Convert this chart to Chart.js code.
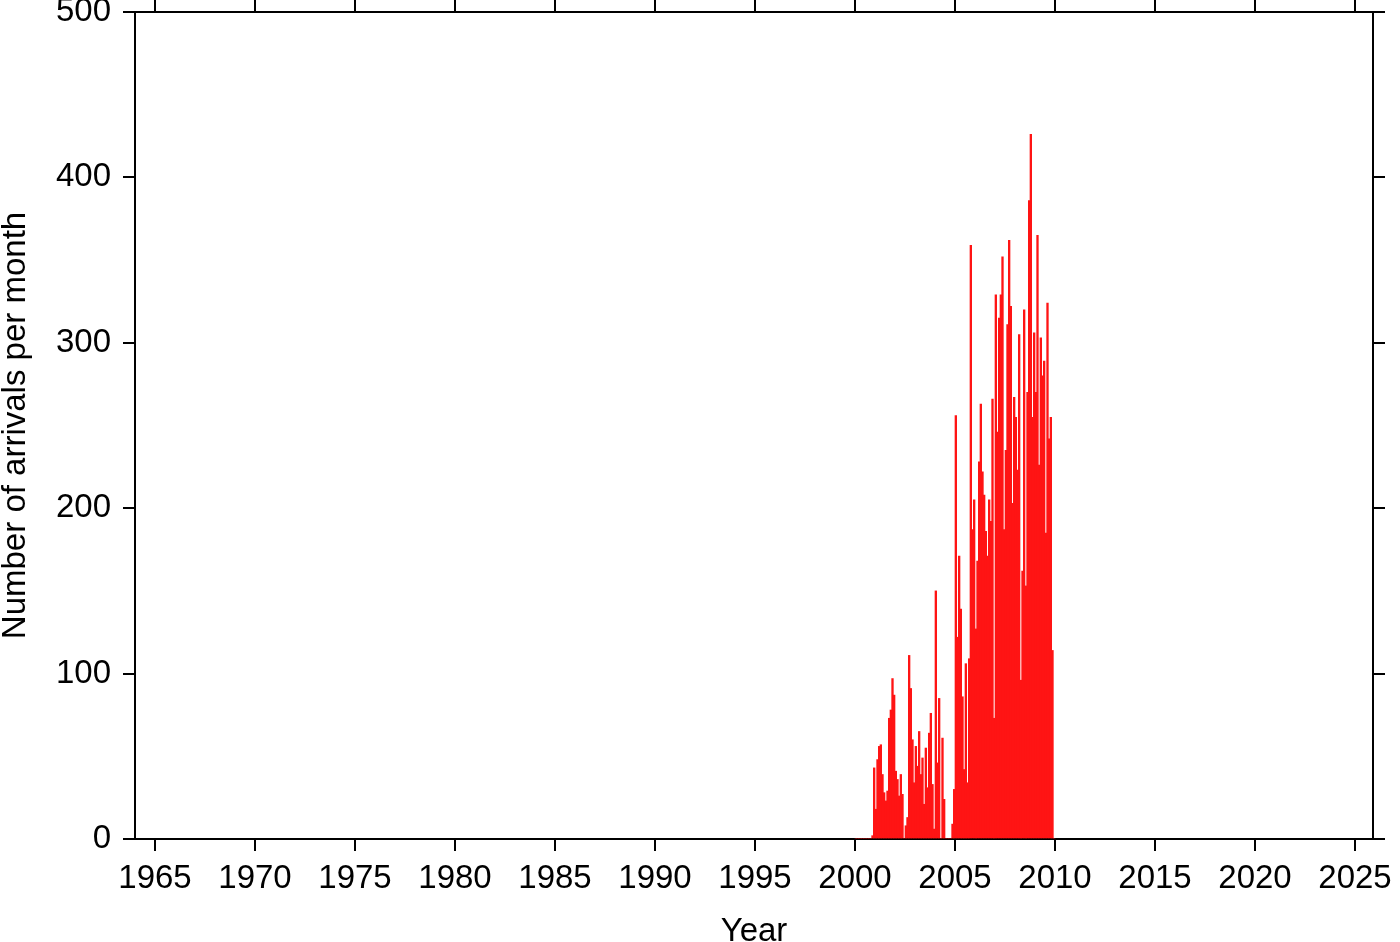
<!DOCTYPE html>
<html>
<head>
<meta charset="utf-8">
<script src="https://cdn.jsdelivr.net/npm/chart.js@4.4.1/dist/chart.umd.min.js"></script>
<style>
  html, body { margin: 0; padding: 0; background: #fff; }
  #chartBox { width: 1400px; height: 942px; }
</style>
</head>
<body>
<div id="chartBox"><canvas id="arrivalsChart" width="1400" height="942"></canvas></div>
<script>
// monthly arrival counts, jan..dec
const years = [2000, 2001, 2002, 2003, 2004, 2005, 2006, 2007, 2008, 2009];
const arrivals2000 = [0, 0, 0, 0, 0, 0, 0, 0, 0, 0, 2, 43];
const arrivals2001 = [18, 48, 56, 57, 39, 28, 23, 29, 73, 78, 97, 87];
const arrivals2002 = [41, 36, 26, 39, 27, 0, 8, 13, 111, 91, 60, 34];
const arrivals2003 = [56, 44, 65, 39, 49, 21, 55, 31, 64, 76, 33, 6];
const arrivals2004 = [150, 46, 85, 0, 61, 24, 0, 0, 0, 0, 9, 30];
const arrivals2005 = [256, 122, 171, 139, 86, 42, 106, 34, 109, 359, 187, 205];
const arrivals2006 = [127, 168, 228, 263, 222, 208, 186, 171, 205, 192, 266, 73];
const arrivals2007 = [329, 246, 315, 329, 352, 187, 235, 311, 362, 322, 203, 267];
const arrivals2008 = [255, 223, 305, 96, 162, 320, 153, 270, 386, 426, 255, 306];
const arrivals2009 = [270, 365, 226, 303, 280, 289, 185, 324, 242, 255, 114, 0];

const yearMin = 1964;
const yearMax = 2025.9;
const yearStep = 5;
const countMax = 500;
const countStep = 100;

document.addEventListener("DOMContentLoaded", () => {
  const allYears = [
    arrivals2000, arrivals2001, arrivals2002, arrivals2003, arrivals2004,
    arrivals2005, arrivals2006, arrivals2007, arrivals2008, arrivals2009
  ];

  const points = [];
  years.forEach((year, i) => {
    allYears[i].forEach((count, month) => {
      points.push({ x: year + (month + 0.5) / 12, y: count });
    });
  });

  const font = { family: "'Liberation Sans', Arial, sans-serif", size: 33 };
  const tickGrid = {
    drawOnChartArea: false,
    drawTicks: true,
    tickLength: 12,
    color: "#000",
    lineWidth: 2,
    offset: false
  };
  const frame = { display: true, color: "#000", width: 2 };

  // fixed box sizes so the plot frame lands where the original has it
  function fixBox(size) {
    return (scale) => {
      if (scale.isHorizontal()) {
        scale.height = size;
      } else {
        scale.width = size;
      }
      scale.paddingTop = 0;
      scale.paddingBottom = 0;
      scale.paddingLeft = 0;
      scale.paddingRight = 0;
    };
  }

  new Chart(document.getElementById("arrivalsChart"), {
    type: "bar",
    data: {
      datasets: [
        {
          data: points,
          backgroundColor: "#ff1414",
          borderWidth: 0,
          barPercentage: 1,
          categoryPercentage: 1
        }
      ]
    },
    options: {
      responsive: false,
      animation: false,
      layout: { padding: 0 },
      plugins: {
        legend: { display: false },
        tooltip: { enabled: false }
      },
      scales: {
        x: {
          type: "linear",
          position: "bottom",
          min: yearMin,
          max: yearMax,
          offset: false,
          grid: tickGrid,
          border: frame,
          ticks: {
            stepSize: yearStep,
            includeBounds: false,
            autoSkip: false,
            maxRotation: 0,
            color: "#000",
            font: font,
            padding: 8,
            callback: (value) => String(value)
          },
          title: {
            display: true,
            text: "Year",
            color: "#000",
            font: font,
            padding: { top: 0, bottom: -10 }
          },
          afterFit: fixBox(103)
        },
        x2: {
          type: "linear",
          axis: "x",
          position: "top",
          min: yearMin,
          max: yearMax,
          offset: false,
          grid: tickGrid,
          border: frame,
          ticks: { display: false, stepSize: yearStep, includeBounds: false },
          afterFit: fixBox(12)
        },
        y: {
          type: "linear",
          position: "left",
          min: 0,
          max: countMax,
          grid: tickGrid,
          border: frame,
          ticks: {
            stepSize: countStep,
            color: "#000",
            font: font,
            padding: 12
          },
          title: {
            display: true,
            text: "Number of arrivals per month",
            color: "#000",
            font: font,
            padding: { top: -4, bottom: 0 }
          },
          afterFit: fixBox(135)
        },
        y2: {
          type: "linear",
          axis: "y",
          position: "right",
          min: 0,
          max: countMax,
          grid: tickGrid,
          border: frame,
          ticks: { display: false, stepSize: countStep },
          afterFit: fixBox(27)
        }
      }
    }
  });
});
</script>
</body>
</html>
